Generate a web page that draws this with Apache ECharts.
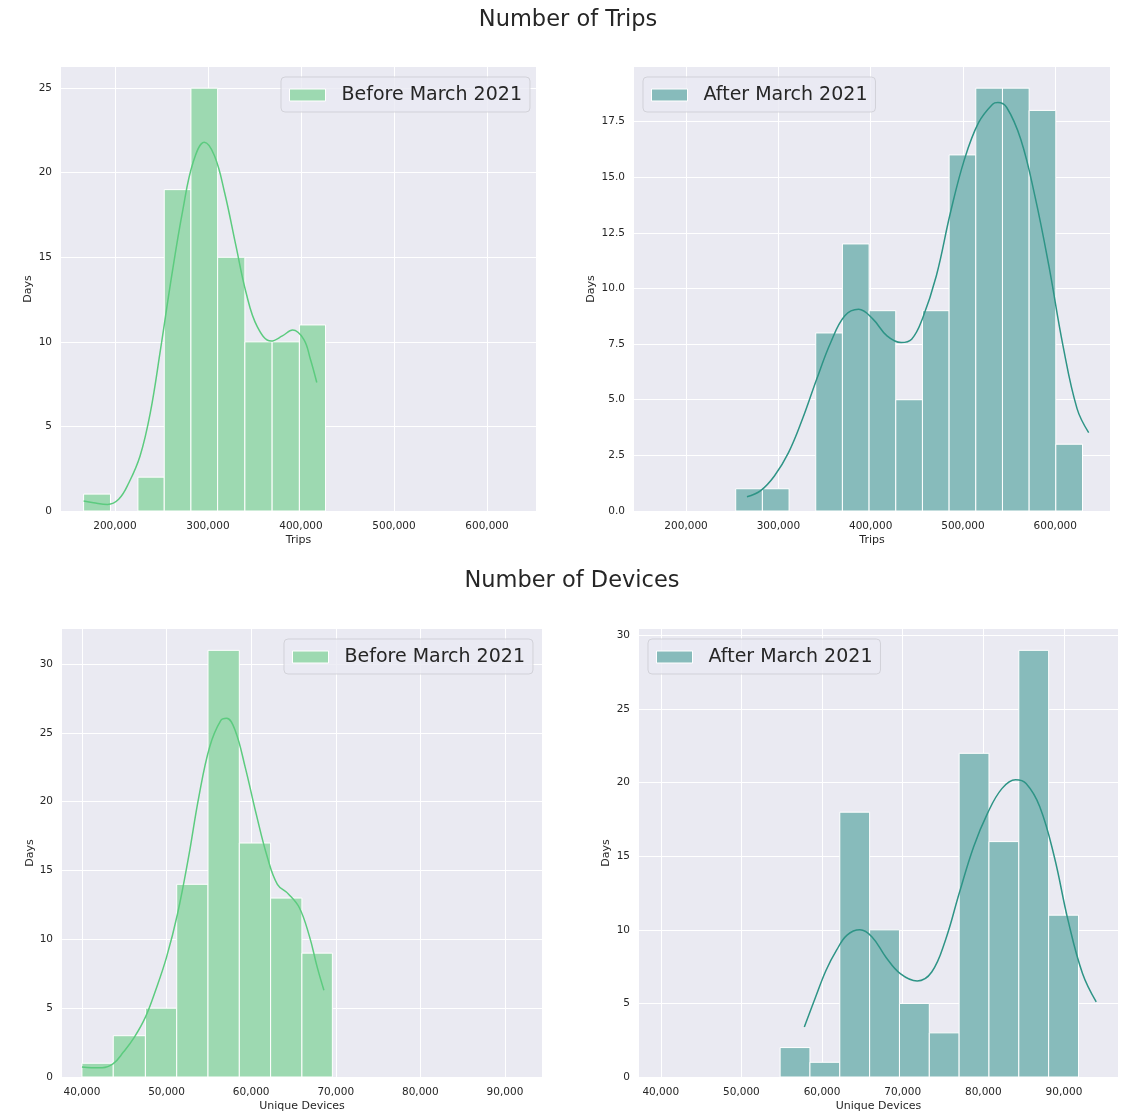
<!DOCTYPE html>
<html><head><meta charset="utf-8">
<script src="https://cdn.jsdelivr.net/npm/echarts@6/dist/echarts.min.js"></script>
<style>html,body{margin:0;padding:0;background:#fff}#c{width:1121px;height:1113px}</style>
</head><body><div id="c"></div>
<script>
// ---------- data ----------
const tripsBeforeEdges = [166300, 195200, 224700, 253000, 281700, 310400, 339700, 369000, 398300, 426400];
const tripsBeforeCounts = [1, 0, 2, 19, 25, 15, 10, 10, 11];
const tripsAfterEdges = [253800, 282700, 311600, 340500, 369400, 398300, 427200, 456100, 485000, 513900, 542800, 571700, 600600, 629500];
const tripsAfterCounts = [1, 1, 0, 8, 12, 9, 5, 9, 16, 19, 19, 18, 3];
const devicesBeforeEdges = [40000, 43700, 47500, 51200, 54900, 58600, 62300, 66000, 69600];
const devicesBeforeCounts = [1, 3, 5, 14, 31, 17, 13, 9];
const devicesAfterEdges = [54800, 58500, 62200, 65900, 69600, 73300, 77000, 80700, 84400, 88100, 91800];
const devicesAfterCounts = [2, 1, 18, 10, 5, 3, 22, 16, 29, 11];

const kdeTripsBefore = [[166300,0.59],[177000,0.49],[192000,0.39],[204000,0.69],[215000,1.67],[227000,3.25],[238000,5.8],[249000,9.55],[261000,13.9],[273000,17.8],[284000,20.6],[296000,21.8],[307000,21.0],[318000,18.8],[330000,15.7],[341000,12.9],[353000,10.9],[368000,10.05],[380000,10.35],[391000,10.7],[403000,10.15],[410000,9.0],[417000,7.6]];
const kdeTripsAfter = [[266000,0.64],[280500,0.9],[295700,1.57],[311000,2.62],[326000,4.12],[341500,5.92],[356700,7.57],[372000,8.77],[387000,9.06],[402500,8.62],[417700,7.87],[433000,7.57],[444400,7.72],[455900,8.62],[471100,10.56],[486400,13.4],[501600,15.8],[516900,17.45],[532100,18.28],[537800,18.35],[547400,18.13],[562600,16.7],[577900,14.16],[593100,11.01],[608400,7.42],[623600,4.6],[636200,3.52]];
const kdeDevicesBefore = [[40000,0.73],[41100,0.68],[42400,0.68],[43700,0.97],[44900,1.81],[46200,2.9],[47500,4.35],[48700,6.29],[50000,8.71],[51300,11.86],[52600,15.97],[53800,20.3],[55100,24.0],[56400,25.9],[57100,26.06],[58100,25.2],[59300,22.5],[60600,19.1],[61900,16.0],[63100,14.0],[64400,13.3],[65700,12.3],[66900,10.2],[67800,8.0],[68600,6.3]];
const kdeDevicesAfter = [[57800,3.4],[59200,5.44],[60500,7.26],[61800,8.62],[63100,9.64],[64700,10.0],[66200,9.52],[67900,8.16],[69700,7.03],[71800,6.53],[73600,7.14],[75300,9.3],[77000,12.47],[78800,15.65],[80500,17.9],[82300,19.6],[84000,20.2],[85300,19.95],[87000,18.37],[88800,14.97],[90500,10.66],[92300,7.03],[94000,5.1]];

const tripsTicks = [200000, 300000, 400000, 500000, 600000];
const devicesTicks = [40000, 50000, 60000, 70000, 80000, 90000];
const yTicksTripsBefore = [0, 5, 10, 15, 20, 25];
const yTicksTripsAfter = [0, 2.5, 5, 7.5, 10, 12.5, 15, 17.5];
const yTicksDevicesBefore = [0, 5, 10, 15, 20, 25, 30];
const yTicksDevicesAfter = [0, 5, 10, 15, 20, 25, 30];

const figTitles = ['Number of Trips', 'Number of Devices'];
const legendBefore = 'Before March 2021';
const legendAfter = 'After March 2021';

// ---------- styling ----------
const FONT = 'DejaVu Sans';
const TXT = '#262626';
const GREEN_BAR = '#9dd9b1', GREEN_LINE = '#5ccb7f';
const TEAL_BAR = '#87bbbb', TEAL_LINE = '#2e9486';

function histData(edges, counts) {
  const out = [];
  for (let i = 0; i < counts.length; i++) out.push([edges[i], edges[i + 1], counts[i]]);
  return out;
}
function renderHist(color) {
  return function (params, api) {
    const x0 = api.value(0), x1 = api.value(1), y = api.value(2);
    if (!y) return null;
    const p0 = api.coord([x0, 0]);
    const p1 = api.coord([x1, y]);
    return {
      type: 'rect',
      shape: { x: p0[0], y: p1[1], width: p1[0] - p0[0], height: p0[1] - p1[1] },
      style: { fill: color, stroke: '#ffffff', lineWidth: 1 }
    };
  };
}

const grids = [
  { left: 61, top: 67, width: 475, height: 444 },
  { left: 634, top: 67, width: 476, height: 444 },
  { left: 62, top: 629, width: 480, height: 448 },
  { left: 639, top: 629, width: 479, height: 448 }
].map(g => Object.assign(g, { show: true, backgroundColor: '#EAEAF2', borderWidth: 0, containLabel: false }));

function xAxis(gi, min, max, ticks, name) {
  return {
    type: 'value', gridIndex: gi, min: min, max: max,
    name: name, nameLocation: 'middle', nameGap: 24,
    nameTextStyle: { fontFamily: FONT, fontSize: 11, color: TXT },
    axisLine: { show: false },
    axisTick: { show: false, customValues: ticks },
    axisLabel: { customValues: ticks, fontFamily: FONT, fontSize: 10.5, color: TXT, margin: 10 },
    splitLine: { show: true, lineStyle: { color: '#ffffff', width: 1 } }
  };
}
function yAxis(gi, max, ticks, fmt, gap) {
  return {
    type: 'value', gridIndex: gi, min: 0, max: max,
    name: 'Days', nameLocation: 'middle', nameGap: gap, nameRotate: 90,
    nameTextStyle: { fontFamily: FONT, fontSize: 11, color: TXT },
    axisLine: { show: false },
    axisTick: { show: false, customValues: ticks },
    axisLabel: { customValues: ticks, fontFamily: FONT, fontSize: 10.5, color: TXT, margin: 9, formatter: fmt },
    splitLine: { show: true, lineStyle: { color: '#ffffff', width: 1 } }
  };
}
function legend(name, left, top) {
  return {
    data: [name], left: left, top: top, orient: 'horizontal',
    icon: 'rect', itemWidth: 36, itemHeight: 12,
    itemStyle: { borderColor: '#ffffff', borderWidth: 1 },
    padding: [6, 8, 5, 8],
    backgroundColor: 'rgba(234,234,242,0.8)', borderColor: 'rgba(204,204,210,0.8)', borderWidth: 1, borderRadius: 4,
    textStyle: { fontFamily: FONT, fontSize: 19, color: TXT, padding: [0, 0, 0, 11], lineHeight: 24 },
    selectedMode: false
  };
}

const option = {
  animation: false,
  backgroundColor: '#ffffff',
  grid: grids,
  xAxis: [
    xAxis(0, 142000, 652700, tripsTicks, 'Trips'),
    xAxis(1, 143600, 659300, tripsTicks, 'Trips'),
    xAxis(2, 37640, 94380, devicesTicks, 'Unique Devices'),
    xAxis(3, 37300, 96700, devicesTicks, 'Unique Devices')
  ],
  yAxis: [
    yAxis(0, 26.25, yTicksTripsBefore, v => String(v), 27),
    yAxis(1, 19.95, yTicksTripsAfter, v => v.toFixed(1), 37),
    yAxis(2, 32.55, yTicksDevicesBefore, v => String(v), 26),
    yAxis(3, 30.45, yTicksDevicesAfter, v => String(v), 27)
  ],
  legend: [
    legend(legendBefore, 281, 77),
    legend(legendAfter, 643, 77),
    legend(legendBefore, 284, 639),
    legend(legendAfter, 648, 639)
  ],
  graphic: [
    { type: 'text', x: 568, y: 20, style: { text: figTitles[0], font: '22.5px "DejaVu Sans"', fill: TXT, align: 'center', verticalAlign: 'middle' } },
    { type: 'text', x: 572, y: 581, style: { text: figTitles[1], font: '22.5px "DejaVu Sans"', fill: TXT, align: 'center', verticalAlign: 'middle' } }
  ],
  series: [
    { type: 'custom', name: legendBefore, xAxisIndex: 0, yAxisIndex: 0, renderItem: renderHist(GREEN_BAR), itemStyle: { color: GREEN_BAR }, encode: { x: [0, 1], y: 2 }, data: histData(tripsBeforeEdges, tripsBeforeCounts), z: 2 },
    { type: 'line', name: 'kde1', xAxisIndex: 0, yAxisIndex: 0, data: kdeTripsBefore, smooth: 0.4, showSymbol: false, lineStyle: { color: GREEN_LINE, width: 1.5 }, itemStyle: { color: GREEN_LINE }, z: 3 },
    { type: 'custom', name: legendAfter, xAxisIndex: 1, yAxisIndex: 1, renderItem: renderHist(TEAL_BAR), itemStyle: { color: TEAL_BAR }, encode: { x: [0, 1], y: 2 }, data: histData(tripsAfterEdges, tripsAfterCounts), z: 2 },
    { type: 'line', name: 'kde2', xAxisIndex: 1, yAxisIndex: 1, data: kdeTripsAfter, smooth: 0.4, showSymbol: false, lineStyle: { color: TEAL_LINE, width: 1.5 }, itemStyle: { color: TEAL_LINE }, z: 3 },
    { type: 'custom', name: legendBefore, xAxisIndex: 2, yAxisIndex: 2, renderItem: renderHist(GREEN_BAR), itemStyle: { color: GREEN_BAR }, encode: { x: [0, 1], y: 2 }, data: histData(devicesBeforeEdges, devicesBeforeCounts), z: 2 },
    { type: 'line', name: 'kde3', xAxisIndex: 2, yAxisIndex: 2, data: kdeDevicesBefore, smooth: 0.4, showSymbol: false, lineStyle: { color: GREEN_LINE, width: 1.5 }, itemStyle: { color: GREEN_LINE }, z: 3 },
    { type: 'custom', name: legendAfter, xAxisIndex: 3, yAxisIndex: 3, renderItem: renderHist(TEAL_BAR), itemStyle: { color: TEAL_BAR }, encode: { x: [0, 1], y: 2 }, data: histData(devicesAfterEdges, devicesAfterCounts), z: 2 },
    { type: 'line', name: 'kde4', xAxisIndex: 3, yAxisIndex: 3, data: kdeDevicesAfter, smooth: 0.4, showSymbol: false, lineStyle: { color: TEAL_LINE, width: 1.5 }, itemStyle: { color: TEAL_LINE }, z: 3 }
  ]
};
const chart = echarts.init(document.getElementById('c'), null, { renderer: 'canvas' });
chart.setOption(option);
</script>
</body></html>
